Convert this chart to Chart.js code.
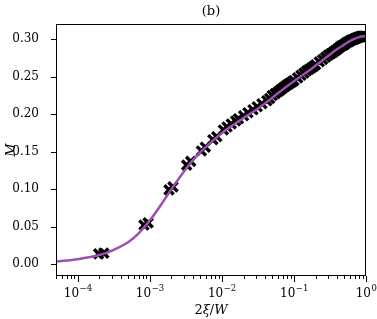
<!DOCTYPE html>
<html>
<head>
<meta charset="utf-8">
<script src="https://cdn.jsdelivr.net/npm/chart.js@4"></script>
<style>
  html, body { margin: 0; padding: 0; background: #fff; }
  #wrap { width: 377px; height: 319px; }
</style>
</head>
<body>
<div id="wrap"><canvas id="myChart"></canvas></div>
<script>
// fitted curve
const curveX = [5e-5, 1e-4, 2e-4, 3e-4, 5e-4, 7e-4, 1e-3, 1.5e-3, 2e-3, 3e-3, 4e-3, 5e-3, 7e-3,
  1e-2, 1.5e-2, 2e-2, 3e-2, 5e-2, 7e-2, 0.1, 0.15, 0.2, 0.3, 0.4, 0.5, 0.6, 0.7, 0.8, 0.9, 1.0];
const curveM = [0.0035, 0.0065, 0.012, 0.018, 0.029, 0.041, 0.058, 0.082, 0.100, 0.124, 0.139, 0.149, 0.162,
  0.175, 0.187, 0.195, 0.206, 0.222, 0.233, 0.244, 0.256, 0.265, 0.278, 0.287, 0.293, 0.298, 0.301, 0.303, 0.304, 0.304];

// measured points
const pointX = [1.95e-4, 2.3e-4, 8.3e-4, 9.5e-4, 1.85e-3, 2.1e-3, 3.25e-3, 3.7e-3, 5.2e-3, 5.9e-3,
  7.5e-3, 8.5e-3, 0.0105, 0.0118,
  0.0135, 0.0155, 0.017, 0.020, 0.023, 0.027, 0.031, 0.036, 0.042, 0.046,
  0.05, 0.055, 0.06, 0.065, 0.07, 0.075, 0.08, 0.085, 0.09, 0.095,
  0.1, 0.1125, 0.125, 0.1375, 0.15, 0.1625, 0.175, 0.1875, 0.2, 0.225, 0.25, 0.275, 0.3, 0.325, 0.35, 0.375,
  0.4, 0.425, 0.45, 0.475,
  0.5, 0.525, 0.55, 0.575, 0.6, 0.625, 0.65, 0.675, 0.7, 0.725, 0.75, 0.775, 0.8, 0.825, 0.85, 0.875,
  0.9, 0.925, 0.95, 0.975, 1.0];
const pointM = [0.0135, 0.0145, 0.052, 0.055, 0.099, 0.103, 0.132, 0.137, 0.151, 0.156,
  0.166, 0.170, 0.179, 0.183,
  0.187, 0.191, 0.194, 0.198, 0.202, 0.206, 0.210, 0.214, 0.218, 0.221,
  0.225, 0.2275, 0.230, 0.2325, 0.235, 0.237, 0.239, 0.2405, 0.242, 0.2435,
  0.245, 0.2485, 0.252, 0.255, 0.258, 0.260, 0.262, 0.264, 0.266, 0.270, 0.273, 0.276, 0.279, 0.281, 0.283, 0.285,
  0.287, 0.289, 0.291, 0.292,
  0.293, 0.295, 0.296, 0.297, 0.298, 0.299, 0.2995, 0.300, 0.301, 0.3015, 0.302, 0.3025, 0.303, 0.3033, 0.3036, 0.304,
  0.304, 0.304, 0.304, 0.304, 0.304];

const xDecades = [1e-4, 1e-3, 1e-2, 1e-1, 1];
const xDecadeExp = ["\u22124", "\u22123", "\u22122", "\u22121", "0"];
const yTicks = [0, 0.05, 0.10, 0.15, 0.20, 0.25, 0.30];

const serif = '"DejaVu Serif", serif';

const framePlugin = {
  id: "frame",
  afterDraw(chart) {
    const { ctx, chartArea: a, scales } = chart;
    const x = scales.x, y = scales.y;
    ctx.save();
    ctx.strokeStyle = "#000";
    ctx.lineWidth = 1;
    ctx.strokeRect(Math.round(a.left) + 0.5, Math.round(a.top) + 0.5,
      Math.round(a.right - a.left) - 1, Math.round(a.bottom - a.top) - 1);

    // x ticks, major and minor
    const bottom = Math.round(a.bottom);
    ctx.beginPath();
    for (let d = 1e-5; d <= 1; d *= 10) {
      for (let m = 1; m < 10; m++) {
        const v = d * m;
        if (v < x.min || v > x.max * 1.0001) continue;
        const px = Math.round(x.getPixelForValue(v)) + 0.5;
        const len = m === 1 ? 6 : 3;
        ctx.moveTo(px, bottom);
        ctx.lineTo(px, bottom + len);
      }
    }
    // y ticks
    const left = Math.round(a.left);
    yTicks.forEach((v) => {
      const py = Math.round(y.getPixelForValue(v)) + 0.5;
      ctx.moveTo(left - 5, py);
      ctx.lineTo(left, py);
    });
    ctx.stroke();

    ctx.fillStyle = "#000";
    ctx.textBaseline = "alphabetic";
    ctx.textAlign = "left";

    // x tick labels 10^k
    xDecades.forEach((d, i) => {
      const px = x.getPixelForValue(d);
      ctx.font = "12px " + serif;
      const w1 = ctx.measureText("10").width;
      ctx.font = "8.5px " + serif;
      const w2 = ctx.measureText(xDecadeExp[i]).width;
      const sx = px - (w1 + w2) / 2;
      ctx.font = "12px " + serif;
      ctx.fillText("10", sx, 297);
      ctx.font = "8.5px " + serif;
      ctx.fillText(xDecadeExp[i], sx + w1 + 0.5, 291);
    });

    ctx.textBaseline = "middle";
    const cx = (a.left + a.right) / 2;

    // title
    ctx.font = "13px " + serif;
    ctx.textAlign = "center";
    ctx.fillText("(b)", cx, 12);

    // x axis label: 2ξ/W
    const parts = [["2", ""], ["\u03BE", "italic "], ["/", ""], ["W", "italic "]];
    let total = 0;
    parts.forEach((p) => { ctx.font = p[1] + "13px " + serif; total += ctx.measureText(p[0]).width; });
    let tx = cx - total / 2;
    ctx.textAlign = "left";
    parts.forEach((p) => {
      ctx.font = p[1] + "13px " + serif;
      ctx.fillText(p[0], tx, 311);
      tx += ctx.measureText(p[0]).width;
    });

    // y axis label
    ctx.save();
    ctx.translate(12, (a.top + a.bottom) / 2);
    ctx.rotate(-Math.PI / 2);
    ctx.textAlign = "center";
    ctx.font = "italic 13px " + serif;
    ctx.fillText("M", 0, 0);
    ctx.restore();

    ctx.restore();
  },
};

const curveData = curveX.map((v, i) => ({ x: v, y: curveM[i] }));
const pointData = pointX.map((v, i) => ({ x: v, y: pointM[i] }));

new Chart(document.getElementById("myChart"), {
  type: "scatter",
  data: {
    datasets: [
      {
        label: "fit",
        data: curveData,
        showLine: true,
        borderColor: "#9c4fae",
        borderWidth: 2.5,
        pointRadius: 0,
        cubicInterpolationMode: "monotone",
        order: 0,
      },
      {
        label: "data",
        data: pointData,
        pointStyle: "crossRot",
        pointRadius: 6.5,
        borderColor: "#000",
        backgroundColor: "#000",
        pointBorderWidth: 3.4,
        order: 1,
      },
    ],
  },
  options: {
    responsive: true,
    maintainAspectRatio: false,
    animation: false,
    layout: { padding: { top: 24, right: 11, left: 0, bottom: 0 } },
    plugins: {
      legend: { display: false },
      tooltip: { enabled: false },
    },
    scales: {
      x: {
        type: "logarithmic",
        min: 5e-5,
        max: 1,
        grid: { display: false },
        border: { display: false },
        afterBuildTicks: (scale) => {
          scale.ticks = xDecades.map((v) => ({ value: v, major: true }));
        },
        afterFit: (scale) => { scale.height = 43; },
        ticks: { display: false },
      },
      y: {
        min: -0.016,
        max: 0.3205,
        grid: { display: false },
        border: { display: false },
        afterBuildTicks: (scale) => {
          scale.ticks = yTicks.map((v) => ({ value: v }));
        },
        afterFit: (scale) => { scale.width = 56; },
        ticks: {
          padding: 9,
          color: "#000",
          font: { family: serif, size: 12 },
          callback: (v) => v.toFixed(2),
        },
      },
    },
  },
  plugins: [framePlugin],
});
</script>
</body>
</html>
